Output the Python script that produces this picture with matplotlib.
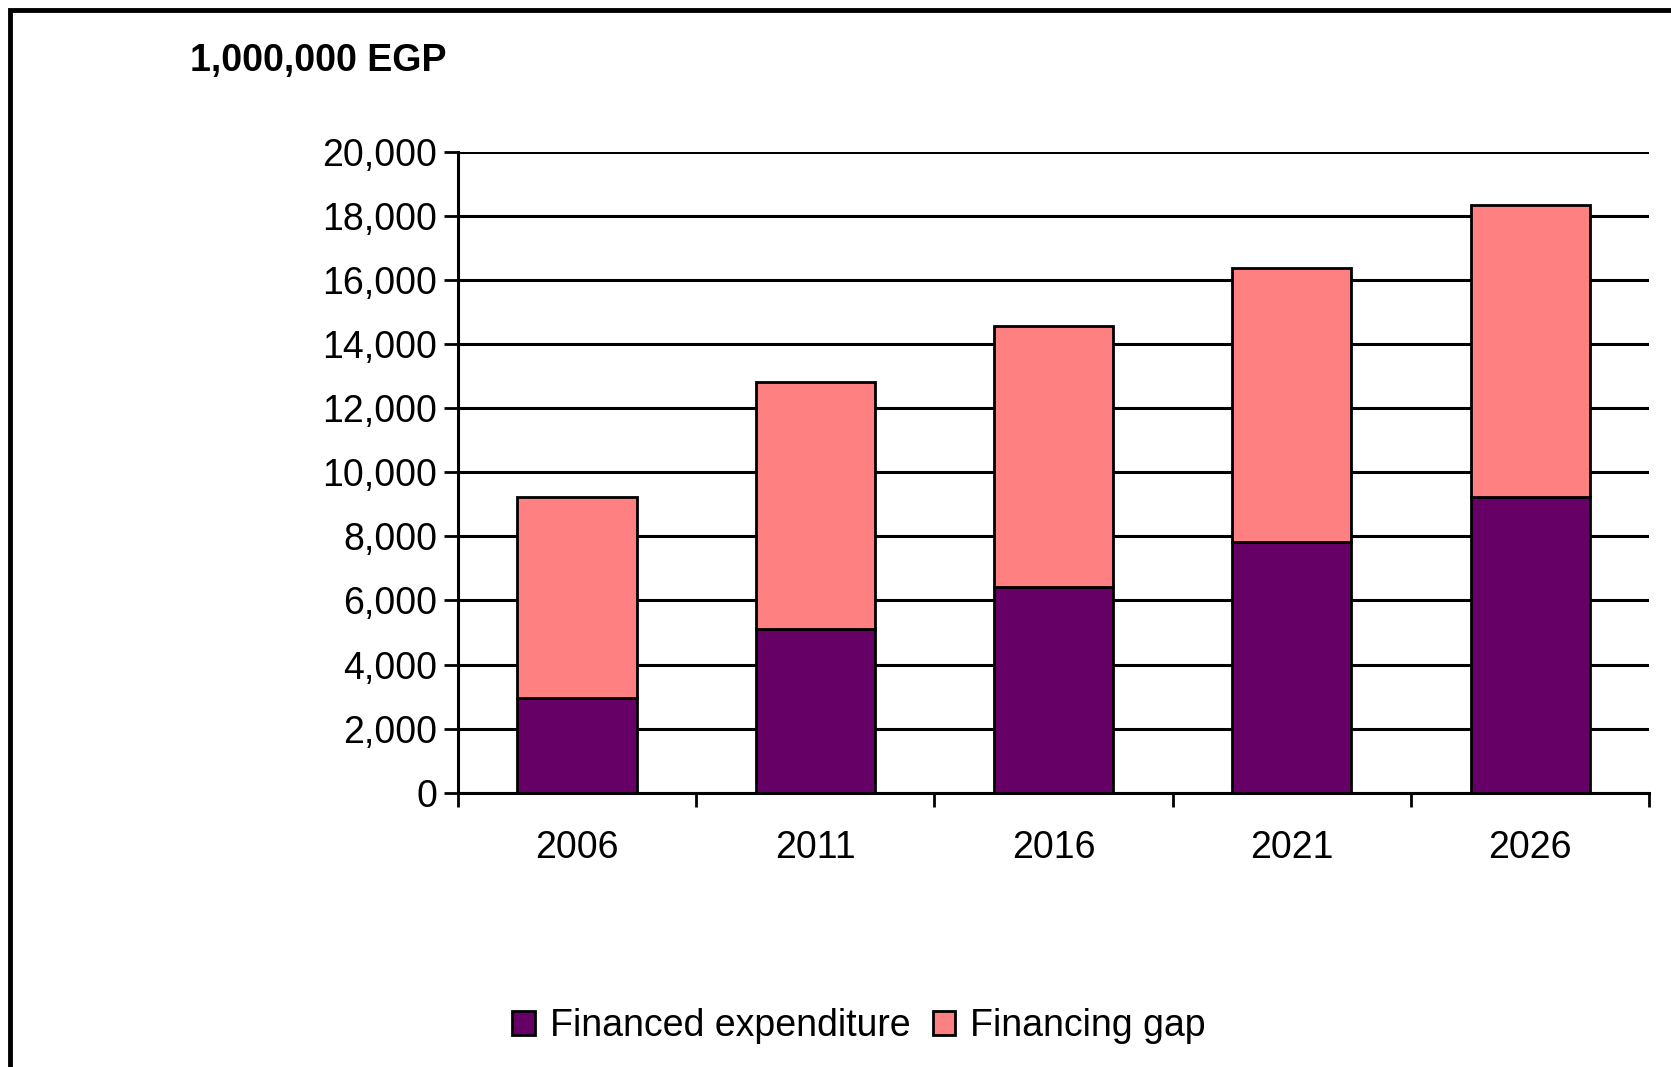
import numpy as np
import matplotlib.pyplot as plt
from matplotlib.patches import Rectangle, Patch

# values (million EGP)
years = ["2006", "2011", "2016", "2021", "2026"]
financed = [2950, 5120, 6410, 7810, 9240]
total = [9230, 12820, 14550, 16380, 18340]
gap = [t - f for t, f in zip(total, financed)]

purple = "#660066"
salmon = "#FF8080"

plt.rcParams['font.family'] = ['Liberation Sans', 'DejaVu Sans']
FS = 27

fig = plt.figure(figsize=(16.71, 10.67), dpi=100)
ax = fig.add_axes([0.274, 0.257, 0.713, 0.601])

x = np.arange(len(years)) + 0.5
ax.bar(x, financed, width=0.5, color=purple, edgecolor='black', linewidth=2, zorder=3)
ax.bar(x, gap, width=0.5, bottom=financed, color=salmon, edgecolor='black', linewidth=2, zorder=3)

ax.set_xlim(0, len(years))
ax.set_ylim(0, 20000)
ax.set_yticks(np.arange(0, 20001, 2000))
ax.set_yticklabels([f"{v:,}" for v in range(0, 20001, 2000)], fontsize=FS)
ax.yaxis.grid(True, color='black', linewidth=2.2)
ax.set_axisbelow(True)

# category labels centred, ticks on the boundaries
ax.set_xticks(np.arange(len(years) + 1))
ax.set_xticklabels([])
ax.set_xticks(x, minor=True)
ax.set_xticklabels(years, minor=True, fontsize=FS)
ax.tick_params(axis='x', which='minor', length=0, pad=27)
ax.tick_params(axis='x', which='major', direction='out', length=10, width=2)
ax.tick_params(axis='y', direction='out', length=10, width=2, pad=5)

for s in ['top', 'right']:
    ax.spines[s].set_visible(False)
for s in ['left', 'bottom']:
    ax.spines[s].set_linewidth(2.2)

fig.text(190 / 1671, 1 - 61 / 1067, "1,000,000 EGP", fontsize=FS, fontweight='bold',
         ha='left', va='center')

handles = [Patch(facecolor=purple, edgecolor='black', linewidth=2, label="Financed expenditure"),
           Patch(facecolor=salmon, edgecolor='black', linewidth=2, label="Financing gap")]
fig.legend(handles=handles, loc='center', bbox_to_anchor=(0.514, 0.038), ncol=2,
           frameon=False, fontsize=FS, handlelength=0.6, handleheight=0.6,
           handletextpad=0.4, columnspacing=0.6)

# outer chart border (only left and top edges fall inside the image)
fig.patches.append(Rectangle((10 / 1671, -0.1), 1.2, 1.1 - 10 / 1067, transform=fig.transFigure,
                             fill=False, edgecolor='black', linewidth=3.5))

fig.savefig("out.png", dpi=100)
